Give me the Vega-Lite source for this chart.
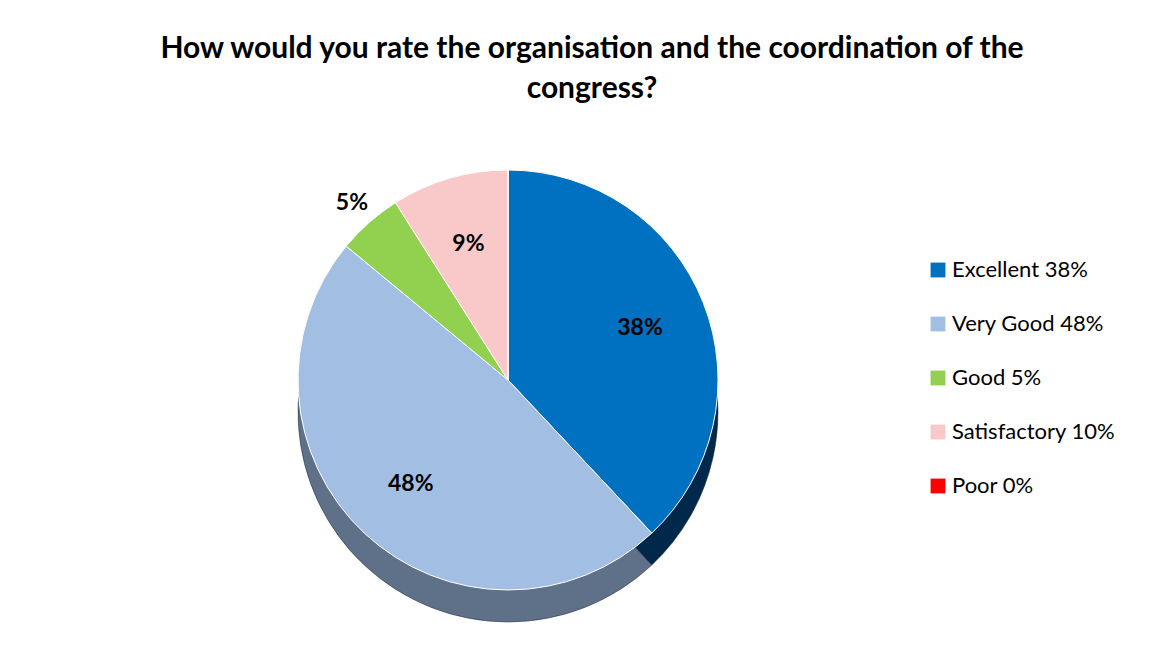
{
  "$schema": "https://vega.github.io/schema/vega-lite/v6.json",
  "width": 700,
  "height": 420,
  "autosize": {"type": "none"},
  "padding": {"left": 158, "top": 170, "right": 309, "bottom": 58},
  "background": "white",
  "config": {"view": {"stroke": null}, "font": "Lato"},
  "title": {
    "text": ["How would you rate the organisation and the coordination of the", "congress?"],
    "anchor": "middle",
    "frame": "group",
    "dx": 84,
    "offset": 29,
    "fontSize": 30,
    "fontWeight": "bold",
    "font": "Lato",
    "lineHeight": 40,
    "color": "#000000"
  },
  "data": {
    "values": [
      {"rank": 1, "legend": "Excellent 38%", "value": 38, "label": "38%", "outside": false},
      {"rank": 2, "legend": "Very Good 48%", "value": 48, "label": "48%", "outside": false},
      {"rank": 3, "legend": "Good 5%", "value": 5, "label": "5%", "outside": true},
      {"rank": 4, "legend": "Satisfactory 10%", "value": 9, "label": "9%", "outside": false},
      {"rank": 5, "legend": "Poor 0%", "value": 0, "label": "", "outside": false}
    ]
  },
  "layer": [
    {
      "mark": {"type": "arc", "outerRadius": 210, "yOffset": 32, "stroke": "#1a2535", "strokeWidth": 0.5},
      "encoding": {
        "theta": {"field": "value", "type": "quantitative", "stack": true},
        "order": {"field": "rank", "type": "quantitative"},
        "color": {
          "field": "legend",
          "type": "nominal",
          "sort": null,
          "scale": {
            "domain": ["Excellent 38%", "Very Good 48%", "Good 5%", "Satisfactory 10%", "Poor 0%"],
            "range": ["#00284a", "#5f7189", "#4f7a25", "#a07f7f", "#800000"]
          },
          "legend": null
        }
      }
    },
    {
      "mark": {"type": "arc", "outerRadius": 210, "stroke": "#ffffff", "strokeWidth": 1},
      "encoding": {
        "theta": {"field": "value", "type": "quantitative", "stack": true},
        "order": {"field": "rank", "type": "quantitative"},
        "color": {
          "field": "legend",
          "type": "nominal",
          "sort": null,
          "scale": {
            "domain": ["Excellent 38%", "Very Good 48%", "Good 5%", "Satisfactory 10%", "Poor 0%"],
            "range": ["#0070c0", "#a3bee3", "#92d050", "#f9c9c9", "#ff0000"]
          },
          "legend": {
            "title": null,
            "orient": "none",
            "legendX": 769,
            "legendY": 89,
            "symbolType": "square",
            "symbolSize": 220,
            "symbolStrokeWidth": 0,
            "labelFontSize": 22,
            "labelFont": "Lato",
            "labelColor": "#000000",
            "labelLimit": 400,
            "rowPadding": 32,
            "labelOffset": 3
          }
        }
      }
    },
    {
      "mark": {"type": "text", "radius": 142, "fontSize": 23, "fontWeight": "bold", "font": "Lato", "color": "#000000"},
      "encoding": {
        "theta": {"field": "value", "type": "quantitative", "stack": true},
        "order": {"field": "rank", "type": "quantitative"},
        "text": {"condition": {"test": "datum.outside", "value": ""}, "field": "label"}
      }
    },
    {
      "mark": {"type": "text", "radius": 236, "fontSize": 23, "fontWeight": "bold", "font": "Lato", "color": "#000000"},
      "encoding": {
        "theta": {"field": "value", "type": "quantitative", "stack": true},
        "order": {"field": "rank", "type": "quantitative"},
        "text": {"condition": {"test": "datum.outside", "field": "label"}, "value": ""}
      }
    }
  ],
  "resolve": {"scale": {"color": "independent"}}
}
